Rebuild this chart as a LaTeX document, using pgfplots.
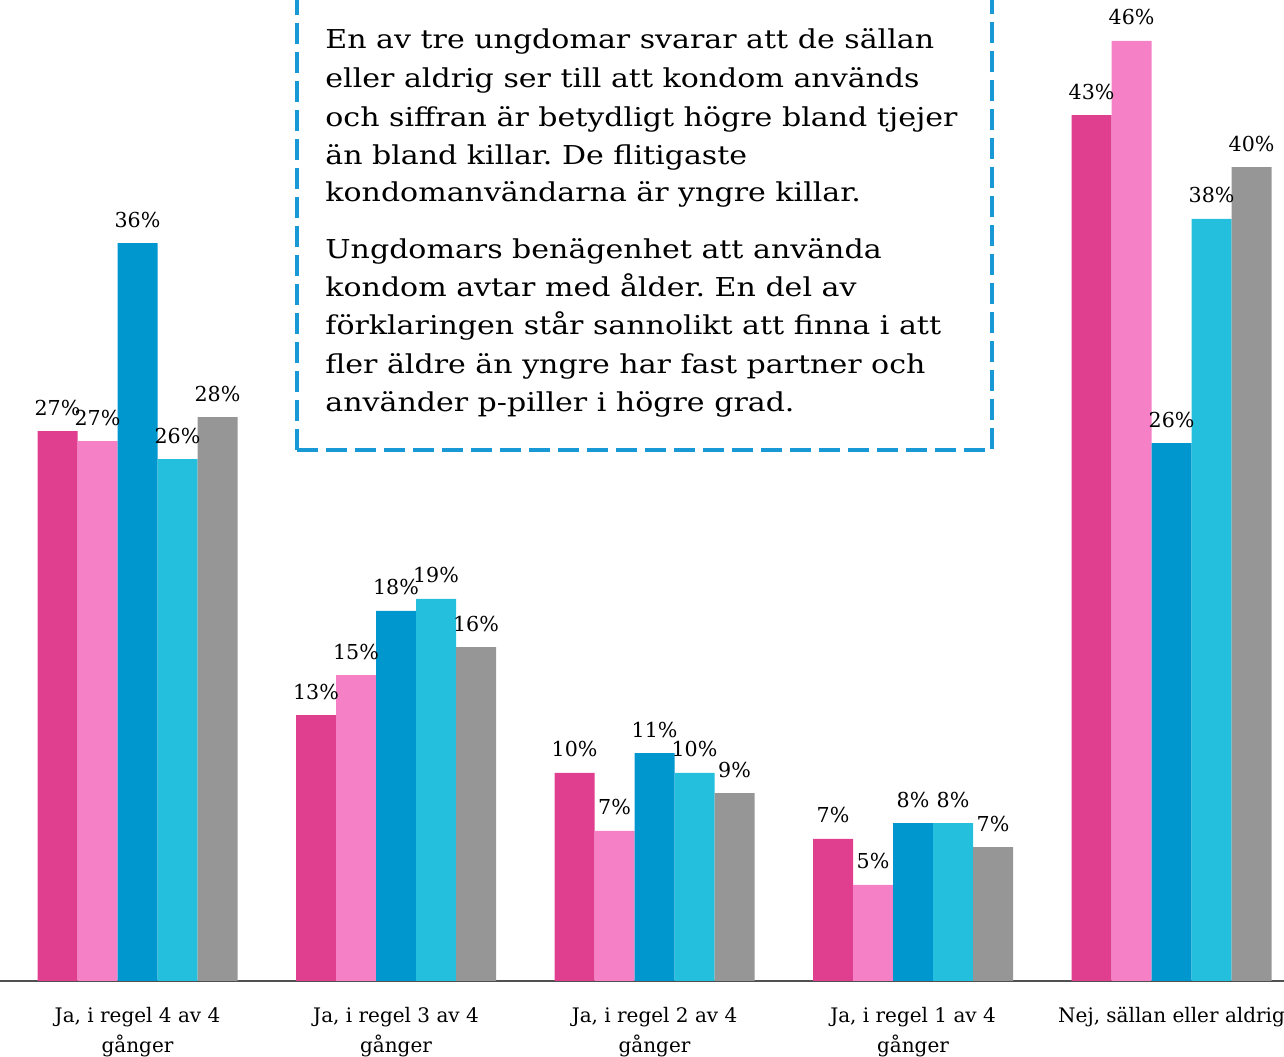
\documentclass[border=0pt]{standalone}
\usepackage{pgfplots}
\pgfplotsset{compat=1.18}
\usepackage{fontspec}
\setmainfont{DejaVu Serif}
\newfontfamily\boxfont{DejaVu Serif}[FakeStretch=1.155]
\definecolor{cA}{RGB}{224,62,143}
\definecolor{cB}{RGB}{246,128,198}
\definecolor{cC}{RGB}{0,151,207}
\definecolor{cD}{RGB}{36,191,221}
\definecolor{cE}{RGB}{150,150,150}
\definecolor{boxblue}{RGB}{25,152,214}
\definecolor{axisgray}{RGB}{80,80,80}
\frenchspacing
\begin{document}
\begin{tikzpicture}
\begin{axis}[name=ax, scale only axis, width=642pt, height=490.5pt,
  xmin=-0.532, xmax=4.435, ymin=0, ymax=48.33,
  ybar=0pt, bar width=20pt,
  axis x line*=bottom, axis y line=none,
  x axis line style={color=axisgray, line width=1pt},
  xtick={0,1,2,3,4}, major tick length=0pt, ytick=\empty,
  xticklabels={{Ja, i regel 4 av 4\\gånger},{Ja, i regel 3 av 4\\gånger},{Ja, i regel 2 av 4\\gånger},{Ja, i regel 1 av 4\\gånger},{Nej, sällan eller aldrig}},
  xticklabel style={font=\fontsize{10}{15}\selectfont, align=center, anchor=north, yshift=-9.5pt, text depth=0pt},
  clip=false,
  point meta=explicit symbolic,
  nodes near coords={\pgfplotspointmeta\%},
  every node near coord/.append style={font=\fontsize{10.3}{12}\selectfont, anchor=base, yshift=8pt, inner sep=0pt, black},
]
\addplot[fill=cA, draw=none] coordinates {(0,27.09)[27] (1,13.10)[13] (2,10.25)[10] (3,7.00)[7] (4,42.66)[43]};
\addplot[fill=cB, draw=none] coordinates {(0,26.60)[27] (1,15.07)[15] (2,7.39)[7] (3,4.73)[5] (4,46.31)[46]};
\addplot[fill=cC, draw=none] coordinates {(0,36.35)[36] (1,18.23)[18] (2,11.23)[11] (3,7.78)[8] (4,26.50)[26]};
\addplot[fill=cD, draw=none] coordinates {(0,25.71)[26] (1,18.82)[19] (2,10.25)[10] (3,7.78)[8] (4,37.54)[38]};
\addplot[fill=cE, draw=none] coordinates {(0,27.78)[28] (1,16.45)[16] (2,9.26)[9] (3,6.60)[7] (4,40.10)[40]};
\end{axis}
\begin{scope}[shift={(ax.north west)}, x=0.5pt, y=-0.5pt]
\draw[boxblue, line width=1.6pt, dash pattern=on 10.5pt off 4pt] (297,450) -- (992,450) -- (992,-12);
\draw[boxblue, line width=1.6pt, dash pattern=on 10.5pt off 4pt] (297,450) -- (297,-12);
\begin{scope}[every node/.style={anchor=base west, inner sep=0pt, font=\boxfont\fontsize{13}{16}\selectfont}]
\node at (325,48.3) {En av tre ungdomar svarar att de sällan};
\node at (325,87.3) {eller aldrig ser till att kondom används};
\node at (325,126.3) {och siffran är betydligt högre bland tjejer};
\node at (325,164.3) {än bland killar. De flitigaste};
\node at (325,202) {kondomanvändarna är yngre killar.};
\node at (325,258.3) {Ungdomars benägenhet att använda};
\node at (325,296.7) {kondom avtar med ålder. En del av};
\node at (325,335) {förklaringen står sannolikt att finna i att};
\node at (325,373.3) {fler äldre än yngre har fast partner och};
\node at (325,411.7) {använder p-piller i högre grad.};
\end{scope}
\end{scope}
\pgfresetboundingbox
\path[use as bounding box] ([yshift=-38pt]ax.south west) rectangle (ax.north east);
\end{tikzpicture}
\end{document}
